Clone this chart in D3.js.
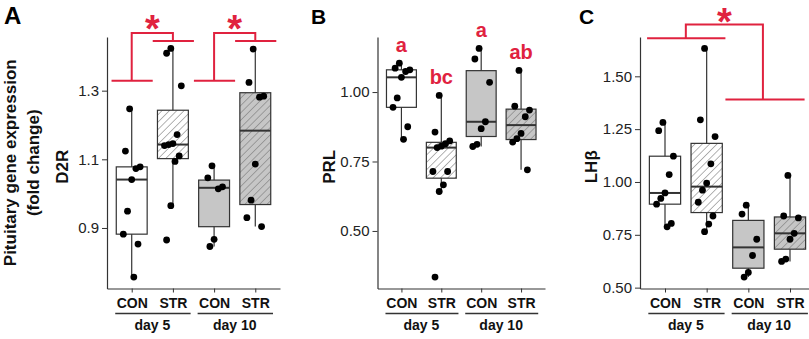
<!DOCTYPE html>
<html>
<head>
<meta charset="utf-8">
<script src="https://cdn.jsdelivr.net/npm/d3@7"></script>
<style>
  body { margin: 0; background: #fff; }
  svg { display: block; font-family: "Liberation Sans", Arial, sans-serif; }
</style>
</head>
<body>
<script>
// groups along each x axis
var groups = ["CON5", "STR5", "CON10", "STR10"];
var groupLabels = ["CON", "STR", "CON", "STR"];
var dayLabels = ["day 5", "day 10"];

// D2R (panel A)
var d2rCON5 = [1.247, 1.124, 1.078, 1.073, 1.041, 0.949, 0.882, 0.853, 0.757];
var d2rSTR5 = [1.423, 1.409, 1.314, 1.172, 1.146, 1.143, 1.140, 1.110, 1.094, 0.965, 0.865];
var d2rCON10 = [1.081, 1.046, 1.020, 1.014, 0.867, 0.846];
var d2rSTR10 = [1.421, 1.324, 1.284, 1.281, 1.086, 0.981, 0.930, 0.904];
var d2rTicks = [0.9, 1.1, 1.3];

// PRL (panel B)
var prlCON5 = [1.104, 1.086, 1.080, 1.074, 1.053, 0.979, 0.945, 0.875, 0.830];
var prlSTR5 = [0.988, 0.856, 0.824, 0.814, 0.805, 0.800, 0.714, 0.714, 0.666, 0.642, 0.334];
var prlCON10 = [1.157, 1.119, 1.035, 0.893, 0.868, 0.812, 0.804];
var prlSTR10 = [1.078, 0.949, 0.935, 0.911, 0.851, 0.832, 0.820, 0.720];
var prlTicks = [0.5, 0.75, 1.0];
var prlLetters = ["a", "bc", "a", "ab"];

// LHbeta (panel C)
var lhbCON5 = [1.282, 1.243, 1.122, 1.035, 0.948, 0.922, 0.895, 0.804, 0.788];
var lhbSTR5 = [1.632, 1.294, 1.215, 1.086, 0.995, 0.961, 0.904, 0.839, 0.801, 0.765];
var lhbCON10 = [0.890, 0.848, 0.729, 0.652, 0.572, 0.550];
var lhbSTR10 = [1.031, 0.839, 0.830, 0.757, 0.729, 0.635, 0.624];
var lhbTicks = [0.5, 0.75, 1.0, 1.25, 1.5];

var red = "#e0223f";
var ink = "#333";
var grayFill = "#c6c6c6";

var W = 809, H = 339;
var plotTop = 37, plotBottom = 288.5;

var svg = d3.select("body").append("svg").attr("width", W).attr("height", H);

// hatch patterns
var defs = svg.append("defs");
function hatch(id, bg) {
  var p = defs.append("pattern")
      .attr("id", id)
      .attr("patternUnits", "userSpaceOnUse")
      .attr("width", 5.2).attr("height", 5.2)
      .attr("patternTransform", "rotate(45)");
  p.append("rect").attr("width", 5.2).attr("height", 5.2).attr("fill", bg);
  p.append("line").attr("x1", 0).attr("y1", 0).attr("x2", 0).attr("y2", 5.2)
      .attr("stroke", "#777").attr("stroke-width", 1.1);
}
hatch("hatchWhite", "#fff");
hatch("hatchGray", grayFill);
var fills = ["#fff", "url(#hatchWhite)", grayFill, "url(#hatchGray)"];

function stats(vals) {
  var s = vals.slice().sort(d3.ascending);
  var q1 = d3.quantile(s, 0.25), med = d3.quantile(s, 0.5), q3 = d3.quantile(s, 0.75);
  var iqr = q3 - q1;
  var lo = d3.min(s.filter(function(v){ return v >= q1 - 1.5 * iqr; }));
  var hi = d3.max(s.filter(function(v){ return v <= q3 + 1.5 * iqr; }));
  return {q1: q1, med: med, q3: q3, lo: lo, hi: hi};
}

function jitter(i) { return (((i * 7 + 3) % 9) - 4) * 2.1; }

function panel(opt) {
  var all = d3.merge(opt.data);
  var ext = d3.extent(all);
  var pad = (ext[1] - ext[0]) * 0.05;
  var y = d3.scaleLinear().domain([ext[0] - pad, ext[1] + pad]).range([plotBottom, plotTop]);
  var x = d3.scalePoint().domain(groups).range([opt.left, opt.right]).padding(0.6);
  var step = x.step();
  var bw = step * 0.75;

  var g = svg.append("g");

  // boxes
  opt.data.forEach(function(vals, k) {
    var s = stats(vals);
    var cx = x(groups[k]);
    g.append("line").attr("x1", cx).attr("x2", cx).attr("y1", y(s.hi)).attr("y2", y(s.lo))
        .attr("stroke", ink).attr("stroke-width", 1.2);
    g.append("rect").attr("x", cx - bw / 2).attr("width", bw)
        .attr("y", y(s.q3)).attr("height", y(s.q1) - y(s.q3))
        .attr("fill", fills[k]).attr("stroke", ink).attr("stroke-width", 1.2);
    g.append("line").attr("x1", cx - bw / 2).attr("x2", cx + bw / 2)
        .attr("y1", y(s.med)).attr("y2", y(s.med))
        .attr("stroke", ink).attr("stroke-width", 2);
  });

  // points
  opt.data.forEach(function(vals, k) {
    g.selectAll("circle.g" + k)
      .data(vals)
      .enter().append("circle")
        .attr("class", "g" + k)
        .attr("cx", function(d, i){ return x(groups[k]) + jitter(i); })
        .attr("cy", function(d){ return y(d); })
        .attr("r", 3.4)
        .attr("fill", "#000");
  });

  // y axis
  var ya = g.append("g").attr("transform", "translate(" + opt.left + ",0)")
      .call(d3.axisLeft(y).tickValues(opt.ticks).tickFormat(d3.format(opt.fmt))
            .tickSize(5).tickPadding(3).tickSizeOuter(0));
  ya.select(".domain").attr("stroke", ink).attr("stroke-width", 1.2);
  ya.selectAll(".tick line").attr("stroke", ink);
  ya.selectAll("text").attr("font-size", 15).attr("fill", "#222")
      .attr("font-family", "Liberation Sans, Arial, sans-serif");

  // x axis
  var xa = g.append("g").attr("transform", "translate(0," + plotBottom + ")")
      .call(d3.axisBottom(x).tickFormat(function(d, i){ return groupLabels[i]; })
            .tickSize(4).tickPadding(6).tickSizeOuter(0));
  xa.select(".domain").attr("stroke", ink).attr("stroke-width", 1.2);
  xa.selectAll(".tick line").attr("stroke", ink);
  xa.selectAll("text").attr("font-size", 14).attr("font-weight", "bold").attr("fill", "#111")
      .attr("font-family", "Liberation Sans, Arial, sans-serif");

  // day groupings
  [0, 1].forEach(function(d) {
    var a = x(groups[d * 2]), b = x(groups[d * 2 + 1]);
    g.append("line").attr("x1", a - 0.4 * step).attr("x2", b + 0.43 * step)
        .attr("y1", 313.5).attr("y2", 313.5).attr("stroke", ink).attr("stroke-width", 1.5);
    g.append("text").attr("x", (a + b) / 2).attr("y", 330)
        .attr("text-anchor", "middle").attr("font-size", 14).attr("font-weight", "bold")
        .attr("fill", "#111").text(dayLabels[d]);
  });

  // y title
  g.append("text")
      .attr("transform", "translate(" + (opt.left - opt.titleOff) + "," + ((plotTop + plotBottom) / 2 + 4) + ") rotate(-90)")
      .attr("text-anchor", "middle").attr("font-size", 17).attr("font-weight", "bold")
      .attr("fill", "#111").text(opt.title);

  // panel letter
  svg.append("text").attr("x", opt.letterX).attr("y", 24)
      .attr("font-size", opt.letterSize).attr("font-weight", "bold").attr("fill", "#000").text(opt.letter);

  return {x: x, y: y, g: g, step: step};
}

var pA = panel({data: [d2rCON5, d2rSTR5, d2rCON10, d2rSTR10], left: 107, right: 280,
  ticks: d2rTicks, fmt: ".1f", title: "D2R", titleOff: 39, letter: "A", letterX: 4, letterSize: 24});
var pB = panel({data: [prlCON5, prlSTR5, prlCON10, prlSTR10], left: 377.5, right: 545,
  ticks: prlTicks, fmt: ".2f", title: "PRL", titleOff: 43, letter: "B", letterX: 311, letterSize: 21});
var pC = panel({data: [lhbCON5, lhbSTR5, lhbCON10, lhbSTR10], left: 640, right: 815,
  ticks: lhbTicks, fmt: ".2f", title: "LH\u03b2", titleOff: 43, letter: "C", letterX: 579, letterSize: 21});

// outer y title for panel A
svg.append("text")
    .attr("transform", "translate(15.5," + ((plotTop + plotBottom) / 2) + ") rotate(-90)")
    .attr("text-anchor", "middle").attr("font-size", 17).attr("font-weight", "bold")
    .attr("fill", "#111").text("Pituitary gene expression");
svg.append("text")
    .attr("transform", "translate(38.5," + ((plotTop + plotBottom) / 2) + ") rotate(-90)")
    .attr("text-anchor", "middle").attr("font-size", 17).attr("font-weight", "bold")
    .attr("fill", "#111").text("(fold change)");

// significance brackets
function redPath(g, pts) {
  g.append("path").attr("d", d3.line()(pts)).attr("fill", "none")
      .attr("stroke", red).attr("stroke-width", 2);
}
function star(g, cx, cy) {
  g.append("text").attr("x", cx).attr("y", cy + 21).attr("text-anchor", "middle")
      .attr("font-size", 38).attr("font-weight", "bold").attr("fill", red).text("*");
}

// panel A: CON vs STR within each day
[0, 1].forEach(function(d) {
  var x = pA.x, y = pA.y, s = pA.step;
  var a = x(groups[d * 2]), b = x(groups[d * 2 + 1]);
  var yLow = y(1.329), yTop = y(1.468), yHigh = y(1.445);
  redPath(pA.g, [[a - 0.49 * s, yLow], [a + 0.51 * s, yLow]]);
  redPath(pA.g, [[a, yLow], [a, yTop], [b, yTop], [b, yHigh]]);
  redPath(pA.g, [[b - 0.49 * s, yHigh], [b + 0.51 * s, yHigh]]);
  star(pA.g, (a + b) / 2, 21);
});

// panel B: letters
prlLetters.forEach(function(t, k) {
  var data = [prlCON5, prlSTR5, prlCON10, prlSTR10][k];
  pB.g.append("text").attr("x", pB.x(groups[k])).attr("y", pB.y(d3.max(data)) - 11)
      .attr("text-anchor", "middle").attr("font-size", 20).attr("font-weight", "bold")
      .attr("fill", red).text(t);
});

// panel C: day 5 vs day 10
(function() {
  var x = pC.x, y = pC.y, s = pC.step;
  var m5 = (x(groups[0]) + x(groups[1])) / 2;
  var m10 = (x(groups[2]) + x(groups[3])) / 2 - 0.15 * s;
  var yL = y(1.68), yT = y(1.745), yR = y(1.39);
  redPath(pC.g, [[m5 - 0.93 * s, yL], [m5 + 0.95 * s, yL]]);
  redPath(pC.g, [[m5, yL], [m5, yT], [m10, yT], [m10, yR]]);
  redPath(pC.g, [[m10 - 0.9 * s, yR], [m10 + 1.0 * s, yR]]);
  star(pC.g, (m5 + m10) / 2, 13.5);
})();
</script>
</body>
</html>
